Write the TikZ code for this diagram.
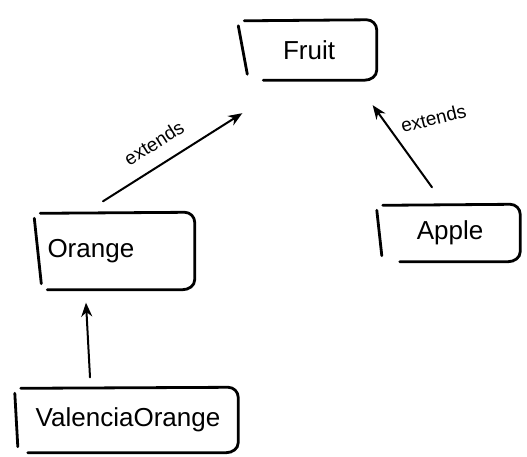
\documentclass[tikz,border=0pt]{standalone}
\usepackage{fontspec}
\setmainfont{Liberation Sans}
\usetikzlibrary{arrows.meta}

% Sketch-style class box: top, rounded right side and bottom in one stroke,
% the left side as a separate slanted stroke.
\newcommand\sketchframe[3]{% node, left inset of bottom line, left stroke tilt
  \draw[frame] ([xshift=3pt,yshift=-1pt]#1.north west) -- ([xshift=-10pt]#1.north east)
      to[out=0,in=90] ([yshift=-10pt]#1.north east)
      -- ([yshift=10pt]#1.south east)
      to[out=-90,in=0] ([xshift=-12pt]#1.south east)
      -- ([xshift=#2]#1.south west);
  \draw[frame] ([xshift=-3pt,yshift=-6pt]#1.north west) -- ([xshift=#3,yshift=6pt]#1.south west);
}

\begin{document}
\begin{tikzpicture}[x=1pt,y=-1pt,
  cls/.style={inner sep=0pt, font=\fontsize{26}{30}\selectfont},
  frame/.style={line width=2.8pt, line cap=round, line join=round},
  arr/.style={line width=2pt, line cap=round, -{Stealth[length=14pt,width=11pt]}},
  lbl/.style={font=\fontsize{19}{22}\selectfont, inner sep=1pt}]
\useasboundingbox (0,0) rectangle (527,457);

% classes
\node[cls, minimum width=135pt, minimum height=60pt] (fruit) at (309,50) {Fruit};
\node[cls, minimum width=157pt, minimum height=77pt, text width=145pt, align=left] (orange) at (116,251) {\hspace*{4pt}Orange};
\node[cls, minimum width=140pt, minimum height=57pt] (apple) at (450,233) {Apple};
\node[cls, minimum width=220pt, minimum height=65pt] (valencia) at (128,420) {ValenciaOrange};

\sketchframe{fruit}{22pt}{6pt}
\sketchframe{orange}{10pt}{4pt}
\sketchframe{apple}{20pt}{2pt}
\sketchframe{valencia}{10pt}{0pt}

% inheritance arrows
\draw[arr] ([xshift=-13pt,yshift=11pt]orange.north) -- ([xshift=1pt,yshift=-33pt]fruit.south west)
  node[lbl, pos=0.45, above, sloped, yshift=13pt] {extends};
\draw[arr] ([xshift=-18pt,yshift=17pt]apple.north) -- ([xshift=-4pt,yshift=-25pt]fruit.south east)
  node[lbl, pos=0.72, anchor=south west, rotate=14, xshift=10pt, yshift=-10pt] {extends};
\draw[arr] ([xshift=-38pt,yshift=10pt]valencia.north) -- ([xshift=-30pt,yshift=-13pt]orange.south);
\end{tikzpicture}
\end{document}
